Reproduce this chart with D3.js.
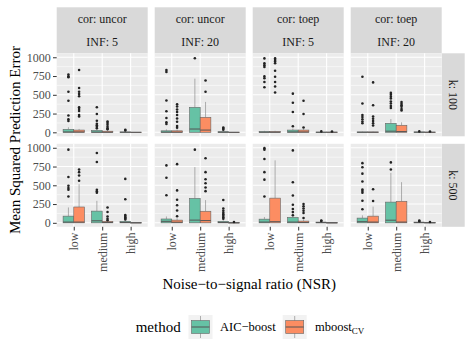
<!DOCTYPE html>
<html>
<head>
<meta charset="utf-8">
<script src="https://cdn.jsdelivr.net/npm/d3@7"></script>
<style>
  body { margin: 0; background: #fff; }
  svg, svg text { font-family: "Liberation Serif", "Times New Roman", serif !important; }
</style>
</head>
<body>
<div id="chart"></div>
<script>
// facet labels
const colCor = ['uncor', 'uncor', 'toep', 'toep'];
const colInf = [5, 20, 5, 20];
const rowK = [100, 500];
const nsrLevels = ['low', 'medium', 'high'];
const methods = ['AIC-boost', 'mboost_CV'];
const yTicks = [0, 250, 500, 750, 1000];
const yMinor = [125, 375, 625, 875];

// box stats: nsr, method, whisker low, q1, median, q3, whisker high, outliers
const k100_uncor_5 = [
  ['low', 'AIC-boost', 0, 0, 5, 40, 67, [770, 745, 735, 540, 420, 225, 175, 150]],
  ['low', 'mboost_CV', 0, 0, 5, 30, 45, [830, 590, 540, 510, 480, 335, 310, 285, 230, 210]],
  ['medium', 'AIC-boost', 0, 0, 3, 25, 50, [335, 245, 155, 115, 95, 75, 55]],
  ['medium', 'mboost_CV', 0, 0, 2, 15, 30, [145, 125, 100, 75, 55, 40]],
  ['high', 'AIC-boost', 0, 0, 1, 5, 10, [35, 25]],
  ['high', 'mboost_CV', 0, 0, 0, 2, 4, []]
];
const k100_uncor_20 = [
  ['low', 'AIC-boost', 0, 0, 3, 20, 40, [830, 805, 425, 280, 190, 135, 110]],
  ['low', 'mboost_CV', 0, 0, 3, 20, 40, [375, 345, 305, 270, 230, 185, 140, 85, 60]],
  ['medium', 'AIC-boost', 0, 0, 44, 333, 715, [987]],
  ['medium', 'mboost_CV', 0, 0, 30, 200, 405, [690, 540]],
  ['high', 'AIC-boost', 0, 0, 2, 8, 20, [65, 50, 35]],
  ['high', 'mboost_CV', 0, 0, 0, 2, 4, []]
];
const k100_toep_5 = [
  ['low', 'AIC-boost', 0, 0, 2, 10, 20, [985, 920, 895, 870, 745, 720, 670, 600]],
  ['low', 'mboost_CV', 0, 0, 2, 10, 20, [985, 965, 945, 920, 820, 740, 670, 610, 530]],
  ['medium', 'AIC-boost', 0, 0, 5, 30, 50, [515, 395, 270, 80]],
  ['medium', 'mboost_CV', 0, 0, 5, 30, 45, [420, 245, 65]],
  ['high', 'AIC-boost', 0, 0, 1, 3, 6, [12]],
  ['high', 'mboost_CV', 0, 0, 1, 3, 6, [10]]
];
const k100_toep_20 = [
  ['low', 'AIC-boost', 0, 0, 1, 5, 10, [740, 385, 230, 205, 175, 145, 120]],
  ['low', 'mboost_CV', 0, 0, 1, 5, 10, [665, 360, 210, 180, 150, 120, 90]],
  ['medium', 'AIC-boost', 0, 0, 15, 120, 177, [525, 500, 475, 450, 410, 385, 350, 325]],
  ['medium', 'mboost_CV', 0, 0, 10, 93, 133, [405, 380, 360, 340, 310, 290]],
  ['high', 'AIC-boost', 0, 0, 2, 5, 8, [12]],
  ['high', 'mboost_CV', 0, 0, 1, 3, 5, [10]]
];
const k500_uncor_5 = [
  ['low', 'AIC-boost', 0, 0, 10, 89, 205, [975, 610, 495, 465, 440, 350]],
  ['low', 'mboost_CV', 0, 0, 10, 211, 515, [710, 675, 630, 560]],
  ['medium', 'AIC-boost', 0, 0, 27, 156, 293, [930, 810, 440, 420, 400]],
  ['medium', 'mboost_CV', 0, 0, 5, 20, 40, [205, 145, 85, 55, 35]],
  ['high', 'AIC-boost', 0, 0, 5, 20, 35, [585, 315, 105, 90, 75, 60, 45]],
  ['high', 'mboost_CV', 0, 0, 0, 2, 4, []]
];
const k500_uncor_20 = [
  ['low', 'AIC-boost', 0, 0, 20, 51, 85, [765, 600, 367]],
  ['low', 'mboost_CV', 0, 0, 8, 36, 60, [782, 432, 307, 234, 165, 87]],
  ['medium', 'AIC-boost', 0, 0, 36, 325, 743, [975]],
  ['medium', 'mboost_CV', 0, 0, 30, 154, 303, [860, 675, 580, 527, 470, 422]],
  ['high', 'AIC-boost', 0, 0, 5, 20, 35, [305, 190, 160, 135, 115, 95, 75, 55]],
  ['high', 'mboost_CV', 0, 0, 0, 2, 4, [10]]
];
const k500_toep_5 = [
  ['low', 'AIC-boost', 0, 0, 10, 49, 78, [995, 975, 850, 675, 575, 350]],
  ['low', 'mboost_CV', 0, 0, 15, 329, 832, []],
  ['medium', 'AIC-boost', 0, 0, 10, 72, 95, [965, 540, 365, 240, 185, 143, 100]],
  ['medium', 'mboost_CV', 0, 0, 5, 23, 40, [250, 220, 190, 160, 130, 65]],
  ['high', 'AIC-boost', 0, 0, 3, 10, 18, [30, 25]],
  ['high', 'mboost_CV', 0, 0, 0, 2, 4, []]
];
const k500_toep_20 = [
  ['low', 'AIC-boost', 0, 0, 15, 63, 100, [795, 740, 655, 550, 445, 425, 400, 295, 180]],
  ['low', 'mboost_CV', 0, 0, 10, 89, 216, [447, 291]],
  ['medium', 'AIC-boost', 0, 0, 35, 276, 665, [805, 710]],
  ['medium', 'mboost_CV', 0, 0, 10, 287, 542, []],
  ['high', 'AIC-boost', 0, 0, 3, 10, 18, [30, 20]],
  ['high', 'mboost_CV', 0, 0, 1, 3, 6, [10]]
];

const panelData = [
  [k100_uncor_5, k100_uncor_20, k100_toep_5, k100_toep_20],
  [k500_uncor_5, k500_uncor_20, k500_toep_5, k500_toep_20]
];

// layout
var panelLeft = 56.7;
var panelTop = 53.3;
var panelW = 91;
var panelH = 83;
var gapX = 7;
var gapY = 7.5;
var stripH = 23;
var serif = '"Liberation Serif", "Times New Roman", serif';

var fills = { 'AIC-boost': '#66C2A5', 'mboost_CV': '#FC8D62' };

var svg = d3.select('#chart')
    .append('svg')
    .attr('width', 472)
    .attr('height', 354)
    .attr('font-family', serif);

var y = d3.scaleLinear().domain([-53, 1053]).range([panelH, 0]);
var x = d3.scalePoint().domain(nsrLevels).range([0, panelW]).padding(0.6);
var step = x.step();
var dodge = d3.scaleBand().domain(methods).range([-0.375 * step, 0.375 * step]);
var bw = dodge.bandwidth();

function px(c) { return panelLeft + c * (panelW + gapX); }
function py(r) { return panelTop + r * (panelH + gapY); }

// top strips (two layers)
colCor.forEach(function(cor, c) {
    var s = svg.append('g').attr('transform', `translate(${px(c)}, ${panelTop - 2 * stripH})`);
    s.append('rect').attr('width', panelW).attr('height', 2 * stripH).attr('fill', '#D9D9D9');
    s.append('text')
        .attr('x', panelW / 2).attr('y', stripH / 2).attr('dy', '0.35em')
        .attr('text-anchor', 'middle').attr('font-size', 12).attr('fill', '#1A1A1A')
        .text('cor: ' + cor);
    s.append('text')
        .attr('x', panelW / 2).attr('y', stripH * 1.5).attr('dy', '0.35em')
        .attr('text-anchor', 'middle').attr('font-size', 12).attr('fill', '#1A1A1A')
        .text('INF: ' + colInf[c]);
});

// right strips
rowK.forEach(function(k, r) {
    var s = svg.append('g').attr('transform', `translate(${px(3) + panelW}, ${py(r)})`);
    s.append('rect').attr('width', stripH).attr('height', panelH).attr('fill', '#D9D9D9');
    s.append('text')
        .attr('transform', `translate(${stripH / 2}, ${panelH / 2}) rotate(90)`)
        .attr('dy', '0.35em')
        .attr('text-anchor', 'middle').attr('font-size', 12).attr('fill', '#1A1A1A')
        .text('k: ' + k);
});

panelData.forEach(function(row, r) {
    row.forEach(function(stats, c) {
        var g = svg.append('g').attr('transform', `translate(${px(c)}, ${py(r)})`);

        g.append('rect').attr('width', panelW).attr('height', panelH).attr('fill', '#EBEBEB');

        g.selectAll('.minor').data(yMinor).enter().append('line')
            .attr('x1', 0).attr('x2', panelW)
            .attr('y1', d => y(d)).attr('y2', d => y(d))
            .attr('stroke', '#fff').attr('stroke-width', 0.55);
        g.selectAll('.major').data(yTicks).enter().append('line')
            .attr('x1', 0).attr('x2', panelW)
            .attr('y1', d => y(d)).attr('y2', d => y(d))
            .attr('stroke', '#fff').attr('stroke-width', 1.1);
        g.selectAll('.vgrid').data(nsrLevels).enter().append('line')
            .attr('x1', d => x(d)).attr('x2', d => x(d))
            .attr('y1', 0).attr('y2', panelH)
            .attr('stroke', '#fff').attr('stroke-width', 1.1);

        stats.forEach(function(d) {
            var cx = x(d[0]) + dodge(d[1]) + bw / 2;
            var b = g.append('g');
            // whiskers
            b.append('line')
                .attr('x1', cx).attr('x2', cx)
                .attr('y1', y(d[6])).attr('y2', y(d[5]))
                .attr('stroke', '#808080').attr('stroke-width', 0.6);
            b.append('line')
                .attr('x1', cx).attr('x2', cx)
                .attr('y1', y(d[3])).attr('y2', y(d[2]))
                .attr('stroke', '#808080').attr('stroke-width', 0.6);
            b.append('rect')
                .attr('x', cx - bw / 2).attr('width', bw)
                .attr('y', y(d[5])).attr('height', Math.max(0.4, y(d[3]) - y(d[5])))
                .attr('fill', fills[d[1]])
                .attr('stroke', '#666').attr('stroke-width', 0.6);
            b.append('line')
                .attr('x1', cx - bw / 2).attr('x2', cx + bw / 2)
                .attr('y1', y(d[4])).attr('y2', y(d[4]))
                .attr('stroke', '#555').attr('stroke-width', 1);
            b.selectAll('circle').data(d[7]).enter().append('circle')
                .attr('cx', cx).attr('cy', v => y(v))
                .attr('r', 1.3).attr('fill', '#222');
        });

        // y axis on first column
        if (c === 0) {
            var ya = svg.append('g')
                .attr('transform', `translate(${px(c)}, ${py(r)})`)
                .call(d3.axisLeft(y).tickValues(yTicks).tickFormat(d3.format('d'))
                    .tickSize(3.7).tickPadding(2.2));
            ya.attr('font-family', serif).attr('font-size', 12);
            ya.select('.domain').remove();
            ya.selectAll('line').attr('stroke', '#333');
            ya.selectAll('text').attr('fill', '#4D4D4D');
        }

        // x axis on bottom row
        if (r === 1) {
            var xa = svg.append('g')
                .attr('transform', `translate(${px(c)}, ${py(r) + panelH})`)
                .call(d3.axisBottom(x).tickSize(3.7).tickPadding(2));
            xa.attr('font-family', serif).attr('font-size', 12);
            xa.select('.domain').remove();
            xa.selectAll('line').attr('stroke', '#333');
            xa.selectAll('text')
                .attr('fill', '#4D4D4D')
                .attr('text-anchor', 'end')
                .attr('transform', 'translate(0, 5.8) rotate(-90)')
                .attr('x', 0).attr('y', 0).attr('dy', '0.35em');
        }
    });
});

// axis titles
svg.append('text')
    .attr('transform', `translate(19.5, ${(panelTop + py(1) + panelH) / 2}) rotate(-90)`)
    .attr('text-anchor', 'middle').attr('font-size', 15).attr('fill', '#000')
    .text('Mean Squared Prediction Error');

svg.append('text')
    .attr('x', (panelLeft + px(3) + panelW) / 2).attr('y', 289.3)
    .attr('text-anchor', 'middle').attr('font-size', 15).attr('fill', '#000')
    .text('Noise\u2212to\u2212signal ratio (NSR)');

// legend
var legend = svg.append('g');
legend.append('text').attr('x', 135.7).attr('y', 332).attr('font-size', 15).text('method');

var keyX = [188.5, 282.7];
methods.forEach(function(m, i) {
    var kg = legend.append('g').attr('transform', `translate(${keyX[i]}, 315)`);
    kg.append('rect').attr('width', 24).attr('height', 24).attr('fill', '#F2F2F2');
    kg.append('line').attr('x1', 12).attr('x2', 12).attr('y1', 1).attr('y2', 23)
        .attr('stroke', '#808080').attr('stroke-width', 0.6);
    kg.append('rect').attr('x', 3).attr('y', 5.5).attr('width', 18).attr('height', 13)
        .attr('fill', fills[m]).attr('stroke', '#666').attr('stroke-width', 0.6);
    kg.append('line').attr('x1', 3).attr('x2', 21).attr('y1', 12).attr('y2', 12)
        .attr('stroke', '#555').attr('stroke-width', 1);
});
legend.append('text').attr('x', 220).attr('y', 331).attr('font-size', 12.5)
    .text('AIC\u2212boost');
var mbText = legend.append('text').attr('x', 315).attr('y', 331).attr('font-size', 12.5);
mbText.append('tspan').text('mboost');
mbText.append('tspan').attr('font-size', 9).attr('dy', 3).text('CV');
</script>
</body>
</html>
